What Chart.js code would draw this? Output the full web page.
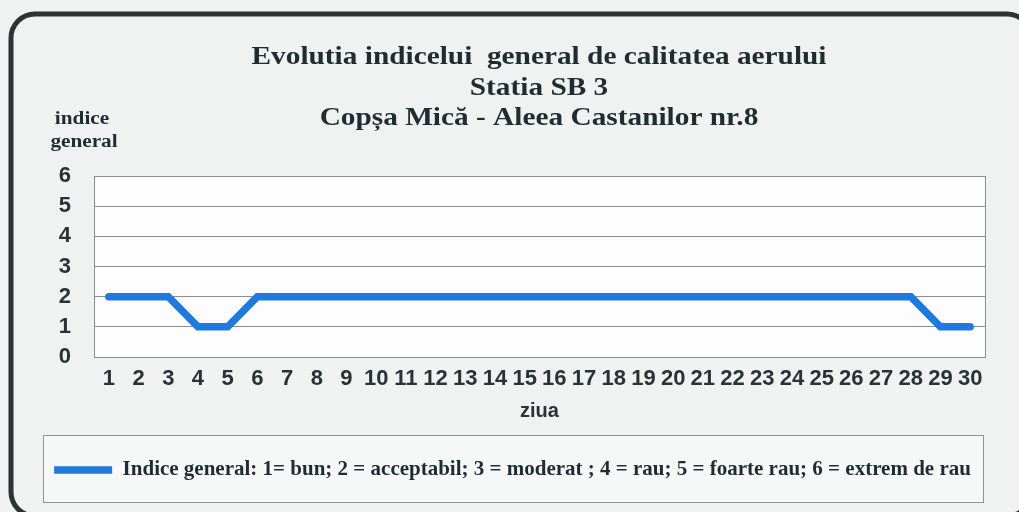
<!DOCTYPE html>
<html>
<head>
<meta charset="utf-8">
<script src="https://cdn.jsdelivr.net/npm/chart.js@4.4.0/dist/chart.umd.min.js"></script>
<style>
  html, body { margin: 0; padding: 0; background: #f0f1f1; }
  #wrap { width: 1019px; height: 512px; position: relative; }
</style>
</head>
<body>
<div id="wrap"><canvas id="c" width="1019" height="512"></canvas></div>
<script>
// ---- data ----
const days = ['1','2','3','4','5','6','7','8','9','10','11','12','13','14','15','16','17','18','19','20','21','22','23','24','25','26','27','28','29','30'];
const indiceGeneral = [2,2,2,1,1,2,2,2,2,2,2,2,2,2,2,2,2,2,2,2,2,2,2,2,2,2,2,2,1,1];
const yTicks = [0,1,2,3,4,5,6];
const titleLines = ['Evolutia indicelui  general de calitatea aerului', 'Statia SB 3', 'Copșa Mică - Aleea Castanilor nr.8'];
const yAxisLabel = ['indice', 'general'];
const xAxisLabel = 'ziua';
const seriesLabel = 'Indice general: 1= bun; 2 = acceptabil; 3 = moderat ; 4 = rau; 5 = foarte rau; 6 = extrem de rau';

const SERIF = '"Liberation Serif", "Times New Roman", serif';
const SANS = '"Liberation Sans", Arial, sans-serif';
const TEXT_DARK = '#1f2d32';

const decorPlugin = {
  id: 'decor',
  beforeDraw(chart) {
    const ctx = chart.ctx;
    const ca = chart.chartArea;
    ctx.save();
    ctx.fillStyle = '#f0f1f1';
    ctx.fillRect(0, 0, chart.width, chart.height);
    // outer rounded frame
    ctx.strokeStyle = '#2b3333';
    ctx.lineWidth = 5;
    ctx.beginPath();
    ctx.roundRect(11, 14, 1020, 502, 24);
    ctx.stroke();
    // plot background
    ctx.fillStyle = '#fdfdfd';
    ctx.fillRect(ca.left, ca.top, ca.right - ca.left, ca.bottom - ca.top);
    // legend frame
    ctx.fillStyle = '#f6f7f7';
    ctx.fillRect(43.5, 435.5, 940, 67);
    ctx.strokeStyle = '#8f9494';
    ctx.lineWidth = 1;
    ctx.strokeRect(43.5, 435.5, 940, 67);
    ctx.restore();
  },
  beforeDatasetsDraw(chart) {
    const ctx = chart.ctx;
    const ca = chart.chartArea;
    ctx.save();
    ctx.strokeStyle = '#8c8f8f';
    ctx.lineWidth = 1;
    ctx.strokeRect(Math.round(ca.left) + 0.5, Math.round(ca.top) + 0.5, Math.round(ca.right - ca.left), Math.round(ca.bottom - ca.top));
    ctx.restore();
  },
  afterDraw(chart) {
    const ctx = chart.ctx;
    ctx.save();
    ctx.fillStyle = TEXT_DARK;
    ctx.textAlign = 'center';
    ctx.textBaseline = 'alphabetic';
    // main title (slightly stretched horizontally like the scanned original)
    ctx.font = 'bold 26px ' + SERIF;
    const w0 = ctx.measureText(titleLines[0]).width;
    const sx = 575 / w0;
    const baselines = [64, 95, 125];
    titleLines.forEach((t, i) => {
      ctx.save();
      ctx.translate(539, baselines[i]);
      ctx.scale(sx, 1);
      ctx.fillText(t, 0, 0);
      ctx.restore();
    });
    // y axis label
    ctx.font = 'bold 18px ' + SERIF;
    const yl = [[82, 124], [84, 147]];
    yAxisLabel.forEach((t, i) => {
      ctx.save();
      ctx.translate(yl[i][0], yl[i][1]);
      ctx.scale(1.18, 1);
      ctx.fillText(t, 0, 0);
      ctx.restore();
    });
    ctx.restore();
  }
};

new Chart(document.getElementById('c'), {
  type: 'line',
  data: {
    labels: days,
    datasets: [{
      label: seriesLabel,
      data: indiceGeneral,
      borderColor: '#2079dc',
      backgroundColor: '#2079dc',
      borderWidth: 7.5,
      borderCapStyle: 'round',
      borderJoinStyle: 'miter',
      pointRadius: 0,
      pointHoverRadius: 0,
      tension: 0,
      fill: false
    }]
  },
  options: {
    responsive: false,
    animation: false,
    events: [],
    layout: { padding: { top: 176, left: 40, right: 34, bottom: 21.5 } },
    plugins: {
      title: { display: false },
      tooltip: { enabled: false },
      legend: {
        display: true,
        position: 'bottom',
        align: 'center',
        labels: {
          usePointStyle: true,
          pointStyle: 'line',
          pointStyleWidth: 58,
          boxWidth: 58,
          padding: 10,
          color: TEXT_DARK,
          font: { family: SERIF, size: 21, weight: 'bold' }
        }
      }
    },
    scales: {
      x: {
        offset: true,
        grid: { display: false, drawTicks: false },
        border: { display: true, color: '#8c8f8f' },
        ticks: {
          color: '#2a3234',
          padding: 9,
          maxRotation: 0,
          autoSkip: false,
          font: { family: SANS, size: 22, weight: 'bold' }
        },
        title: {
          display: true,
          text: xAxisLabel,
          color: '#2a3234',
          padding: { top: 0, bottom: 26.5 },
          font: { family: SANS, size: 20, weight: 'bold' }
        },
        afterFit(scale) { scale.height = 92.5; }
      },
      y: {
        min: 0,
        max: 6,
        afterBuildTicks(scale) { scale.ticks = yTicks.map(v => ({ value: v })); },
        grid: { color: '#8c8f8f', lineWidth: 1, drawTicks: false },
        border: { display: true, color: '#8c8f8f' },
        ticks: {
          color: '#2a3234',
          padding: 23,
          font: { family: SANS, size: 22, weight: 'bold' }
        },
        afterFit(scale) { scale.width = 54; }
      }
    }
  },
  plugins: [decorPlugin]
});
</script>
</body>
</html>
